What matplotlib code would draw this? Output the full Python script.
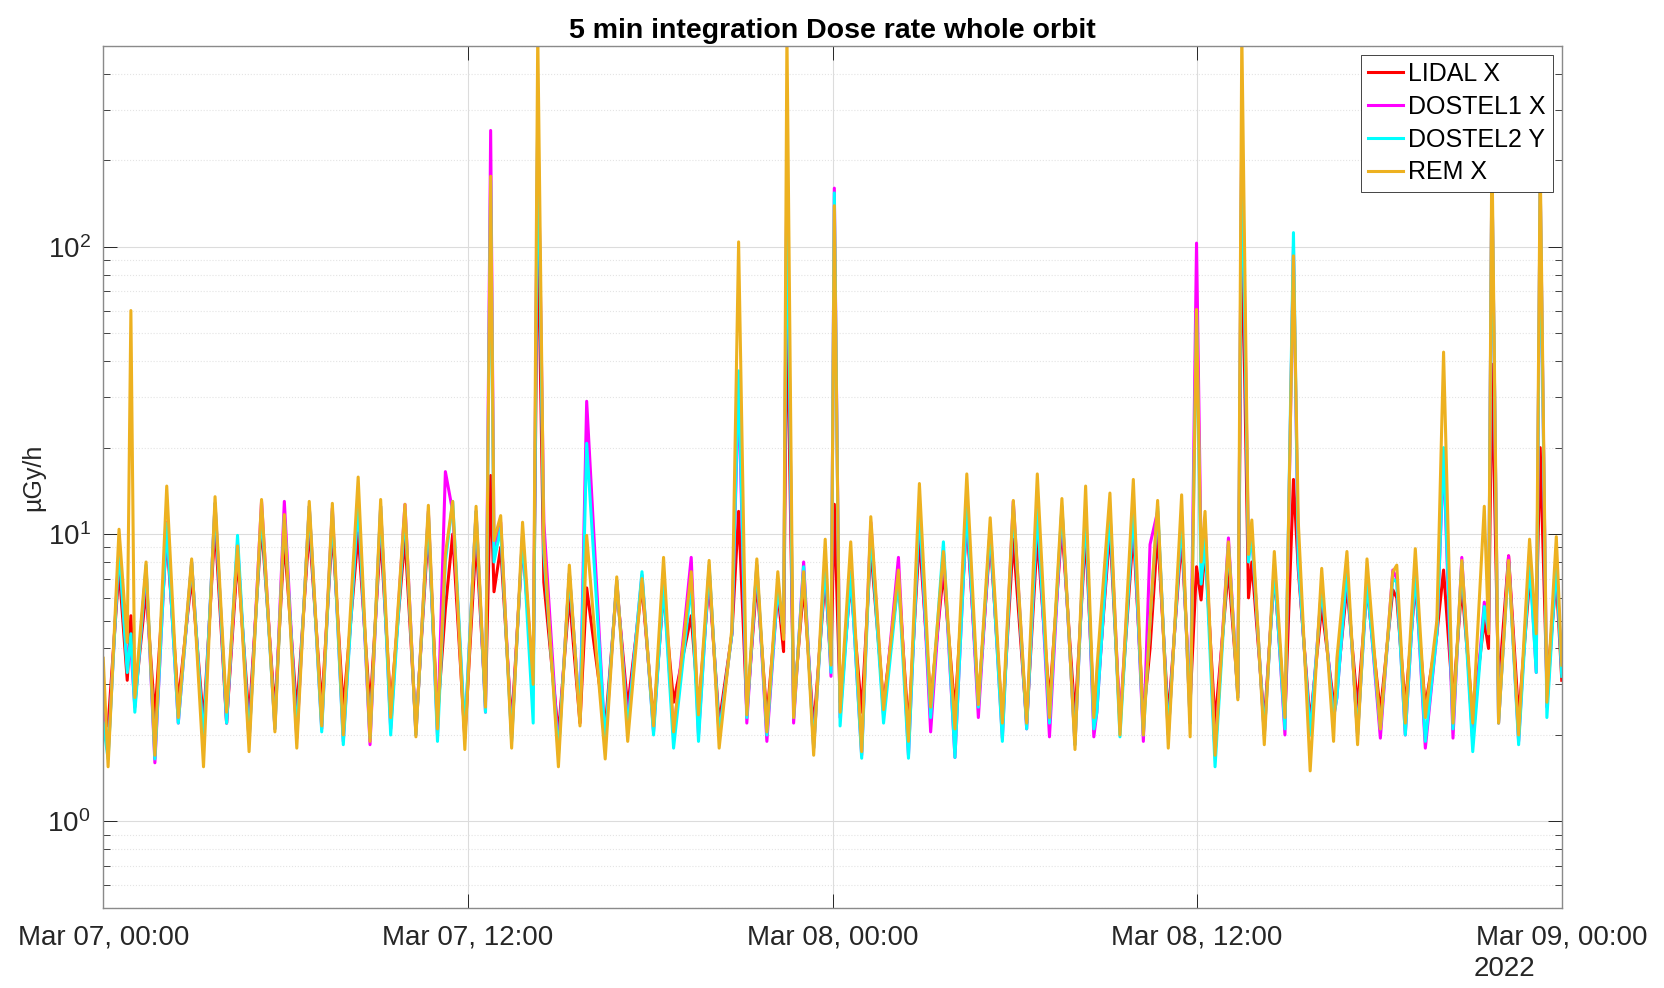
from datetime import datetime, timedelta
import matplotlib
matplotlib.use("Agg")
import matplotlib.pyplot as plt
import matplotlib.dates as mdates
from matplotlib.ticker import LogLocator, NullFormatter

# hours after 2022-03-07 00:00, read from the peaks / troughs of the plot
hours = [0.00, 0.16, 0.52, 0.79, 0.91, 1.04, 1.41, 1.70, 2.09, 2.47,
         2.91, 3.30, 3.68, 4.06, 4.42, 4.80, 5.21, 5.65, 5.96, 6.37,
         6.78, 7.19, 7.54, 7.90, 8.39, 8.78, 9.13, 9.46, 9.93, 10.29,
         10.70, 11.00, 11.26, 11.50, 11.90, 12.27, 12.58, 12.75, 12.86, 13.08,
         13.44, 13.80, 14.15, 14.30, 14.50, 14.98, 15.34, 15.69, 15.91, 16.52,
         16.90, 17.26, 17.73, 18.11, 18.44, 18.77, 19.35, 19.59, 19.94, 20.27,
         20.69, 20.91, 21.18, 21.51, 21.84, 22.20, 22.39, 22.50, 22.72, 23.05,
         23.38, 23.76, 23.95, 24.06, 24.25, 24.60, 24.96, 25.26, 25.68, 26.17,
         26.50, 26.86, 27.23, 27.65, 28.03, 28.42, 28.80, 29.19, 29.59, 29.95,
         30.39, 30.74, 31.14, 31.55, 31.98, 32.33, 32.60, 32.70, 33.13, 33.46,
         33.90, 34.23, 34.45, 34.70, 35.05, 35.49, 35.77, 35.98, 36.13, 36.26,
         36.59, 37.03, 37.34, 37.47, 37.69, 37.80, 38.21, 38.54, 38.89, 39.17,
         39.33, 39.72, 40.10, 40.49, 40.60, 40.93, 41.28, 41.59, 42.03, 42.44,
         42.57, 42.85, 43.18, 43.51, 43.89, 44.11, 44.42, 44.71, 45.07, 45.45,
         45.59, 45.70, 45.92, 46.25, 46.58, 46.94, 47.16, 47.29, 47.51, 47.82,
         48.00]

lidal = [2.3, 2.15, 7.6, 3.1, 5.2, 2.6, 6.4, 2.3, 9.8, 2.6,
         7.1, 2.2, 10.8, 2.2, 8.3, 2.25, 10.8, 2.4, 9.6, 2.4,
         10.5, 2.5, 10.4, 2.45, 10.1, 2.45, 10.0, 2.5, 9.8, 2.1,
         10.5, 2.3, 5.5, 10.0, 1.95, 9.6, 2.6, 16, 6.3, 9.0,
         2.15, 9.4, 3.0, 137, 6.8, 2.0, 6.1, 2.2, 6.5, 2.1,
         6.6, 2.5, 6.6, 2.2, 6.3, 2.6, 5.2, 2.45, 6.9, 2.2,
         4.5, 12, 2.4, 6.9, 2.3, 6.3, 3.9, 71, 2.5, 6.6,
         2.1, 7.1, 3.5, 12.7, 2.6, 6.8, 2.4, 8.9, 2.55, 7.0,
         2.1, 9.8, 2.6, 7.4, 2.4, 11.2, 2.6, 9.6, 2.2, 9.6,
         2.2, 9.8, 2.6, 10.7, 2.3, 10.1, 2.4, 2.6, 10.4, 2.2,
         10.3, 2.3, 4.0, 10.1, 2.3, 9.8, 2.6, 7.7, 5.9, 9.0,
         2.2, 7.6, 2.8, 132, 6.0, 8.0, 2.2, 7.3, 2.3, 15.5,
         7.5, 2.2, 5.6, 2.6, 2.9, 6.6, 2.5, 6.5, 2.4, 6.4,
         6.0, 2.5, 6.7, 2.5, 4.5, 7.5, 2.6, 6.6, 2.3, 5.0,
         4.0, 39, 2.9, 8.4, 2.3, 6.9, 5.0, 20, 3.0, 7.0,
         3.1]

dostel1 = [2.4, 1.7, 9.0, 3.5, 4.0, 2.5, 7.6, 1.6, 11.0, 2.2,
           8.0, 1.85, 12.8, 2.2, 9.3, 1.9, 13.0, 2.1, 13.0, 1.95,
           12.5, 2.1, 12.3, 1.9, 13.5, 1.85, 12.5, 2.1, 12.7, 2.0,
           12.0, 2.0, 16.5, 12.0, 2.0, 12.0, 2.4, 254, 9.0, 11.0,
           1.95, 10.0, 2.9, 300, 11.0, 1.75, 7.3, 2.3, 29, 1.85,
           6.9, 2.2, 7.2, 2.05, 6.8, 2.0, 8.3, 2.0, 7.6, 2.0,
           4.5, 33, 2.2, 7.8, 1.9, 6.5, 4.5, 200, 2.2, 8.0,
           1.8, 8.3, 3.2, 160, 2.3, 7.4, 1.7, 11.0, 2.35, 8.3,
           1.7, 12.5, 2.05, 8.8, 1.67, 12.5, 2.3, 10.5, 1.95, 13.0,
           2.1, 12.5, 1.97, 12.3, 1.85, 12.5, 1.97, 2.4, 12.0, 2.2,
           12.3, 1.9, 9.2, 12.0, 2.0, 11.5, 2.2, 103, 8.5, 11.0,
           1.7, 9.7, 2.7, 280, 8.5, 10.0, 2.0, 7.8, 2.0, 100,
           8.0, 2.0, 6.6, 2.3, 2.7, 7.6, 2.0, 7.0, 1.95, 7.5,
           7.0, 2.0, 7.5, 1.8, 4.5, 19, 1.95, 8.3, 1.9, 5.8,
           4.5, 190, 2.2, 8.4, 1.9, 8.6, 3.3, 170, 2.5, 8.0,
           3.3]

dostel2 = [2.2, 1.65, 9.0, 3.3, 4.5, 2.4, 7.8, 1.65, 10.9, 2.2,
           8.0, 1.9, 12.8, 2.2, 9.9, 1.9, 12.0, 2.1, 11.5, 2.0,
           12.5, 2.05, 12.0, 1.85, 13.1, 1.95, 12.5, 2.0, 12.0, 2.0,
           11.8, 1.9, 8.0, 13.0, 2.05, 12.0, 2.4, 170, 8.0, 10.5,
           1.9, 10.0, 2.2, 310, 8.6, 1.7, 7.3, 2.3, 20.7, 1.9,
           6.9, 2.1, 7.4, 2.0, 6.7, 1.8, 6.7, 1.9, 7.8, 2.0,
           4.5, 37, 2.3, 7.8, 2.0, 6.5, 4.5, 190, 2.3, 7.7,
           1.8, 8.0, 3.3, 154, 2.15, 7.4, 1.66, 10.3, 2.2, 7.0,
           1.66, 12.5, 2.3, 9.4, 1.67, 12.5, 2.5, 10.5, 1.9, 12.5,
           2.1, 12.2, 2.2, 12.5, 1.85, 12.3, 2.1, 2.4, 12.0, 1.97,
           12.3, 2.0, 5.0, 12.5, 2.0, 11.5, 2.2, 60, 6.7, 9.6,
           1.55, 9.2, 2.7, 260, 8.0, 10.0, 2.0, 7.6, 2.1, 112,
           8.0, 2.0, 6.5, 2.3, 2.7, 7.6, 2.0, 6.8, 2.1, 7.0,
           6.8, 2.0, 7.5, 1.9, 4.5, 20, 2.1, 8.0, 1.75, 5.6,
           4.6, 190, 2.2, 8.0, 1.85, 8.0, 3.3, 170, 2.3, 8.0,
           3.2]

rem = [3.7, 1.55, 10.4, 4.2, 60, 2.7, 8.0, 1.7, 14.7, 2.3,
       8.2, 1.55, 13.5, 2.4, 9.1, 1.75, 13.2, 2.05, 11.7, 1.8,
       13.0, 2.15, 12.8, 2.0, 15.8, 1.9, 13.2, 2.3, 12.7, 1.97,
       12.6, 2.1, 8.5, 13.0, 1.78, 12.5, 2.5, 176, 9.5, 11.6,
       1.8, 11.0, 3.0, 560, 9.5, 1.55, 7.8, 2.15, 9.9, 1.65,
       7.1, 1.9, 7.0, 2.15, 8.3, 2.05, 7.4, 2.35, 8.1, 1.8,
       4.7, 104, 2.35, 8.2, 2.05, 7.4, 4.3, 560, 2.3, 7.4,
       1.7, 9.6, 3.5, 139, 2.4, 9.4, 1.75, 11.5, 2.45, 7.5,
       1.9, 15.0, 2.5, 8.7, 2.1, 16.2, 2.55, 11.4, 2.2, 13.1,
       2.2, 16.2, 2.3, 13.3, 1.78, 14.7, 2.3, 3.4, 13.9, 2.0,
       15.5, 2.0, 5.0, 13.1, 1.8, 13.7, 1.97, 60.5, 8.0, 12.0,
       1.7, 9.4, 2.65, 560, 8.5, 11.2, 1.85, 8.7, 2.3, 93,
       11.0, 1.5, 7.6, 1.9, 3.7, 8.7, 1.85, 8.2, 2.1, 7.4,
       7.8, 2.2, 8.9, 2.3, 5.0, 43, 2.2, 8.1, 2.2, 12.5,
       4.5, 230, 2.2, 8.1, 2.0, 9.6, 4.5, 200, 2.6, 9.8,
       3.5]

series_names = ["LIDAL X", "DOSTEL1 X", "DOSTEL2 Y", "REM X"]
series_colors = ["#ff0000", "#ff00ff", "#00ffff", "#edb120"]
tick_hours = [0, 12, 24, 36, 48]

plt.rcParams["font.family"] = ["Liberation Sans", "DejaVu Sans"]
plt.rcParams["mathtext.fontset"] = "custom"
plt.rcParams["mathtext.rm"] = "Liberation Sans"
plt.rcParams["mathtext.it"] = "Liberation Sans:italic"
plt.rcParams["mathtext.bf"] = "Liberation Sans:bold"

start = datetime(2022, 3, 7)
times = [start + timedelta(hours=h) for h in hours]

fig = plt.figure(figsize=(16.65, 9.88), dpi=100)
ax = fig.add_axes([0.062, 0.081, 0.876, 0.8725])

for values, name, color in zip([lidal, dostel1, dostel2, rem], series_names, series_colors):
    ax.plot(times, values, color=color, linewidth=2.2, label=name)

ax.set_yscale("log")
ax.set_ylim(0.5, 500)
ax.set_xlim(start, start + timedelta(hours=48))
ax.set_xticks([start + timedelta(hours=h) for h in tick_hours])
ax.xaxis.set_major_formatter(mdates.DateFormatter("%b %d, %H:%M"))
ax.yaxis.set_major_locator(LogLocator(base=10))
ax.yaxis.set_minor_locator(LogLocator(base=10, subs=range(2, 10)))
ax.yaxis.set_minor_formatter(NullFormatter())

ax.tick_params(which="both", direction="in", top=True, right=True,
               color="#262626", labelcolor="#262626", labelsize=20)
ax.tick_params(which="major", length=10, width=0.7)
ax.tick_params(which="minor", length=5, width=0.6)
ax.tick_params(axis="x", pad=12)
ax.tick_params(axis="y", pad=9)
for spine in ax.spines.values():
    spine.set_color("#8a8a8a")
    spine.set_linewidth(1.0)

ax.grid(which="major", color="#dcdcdc", linewidth=0.8)
ax.grid(which="minor", axis="y", color="#e4e4e4", linewidth=0.8, linestyle=":")
ax.set_axisbelow(True)

ax.set_title("5 min integration Dose rate whole orbit", fontsize=20.5, fontweight="bold", pad=6)
ax.set_ylabel("\u00b5Gy/h", fontsize=18, color="#262626")
ax.yaxis.set_label_coords(-0.040, 0.5)
fig.text(0.8853, 0.0197, "2022", fontsize=20, color="#262626", ha="left", va="center")

leg = ax.legend(loc="upper right", bbox_to_anchor=(0.994, 0.99), borderaxespad=0,
                fontsize=18, fancybox=False, framealpha=1, edgecolor="#262626",
                handlelength=1.4, handletextpad=0.2, labelspacing=0.35, borderpad=0.3)
leg.get_frame().set_linewidth(0.6)

fig.savefig("out.png", dpi=100)
